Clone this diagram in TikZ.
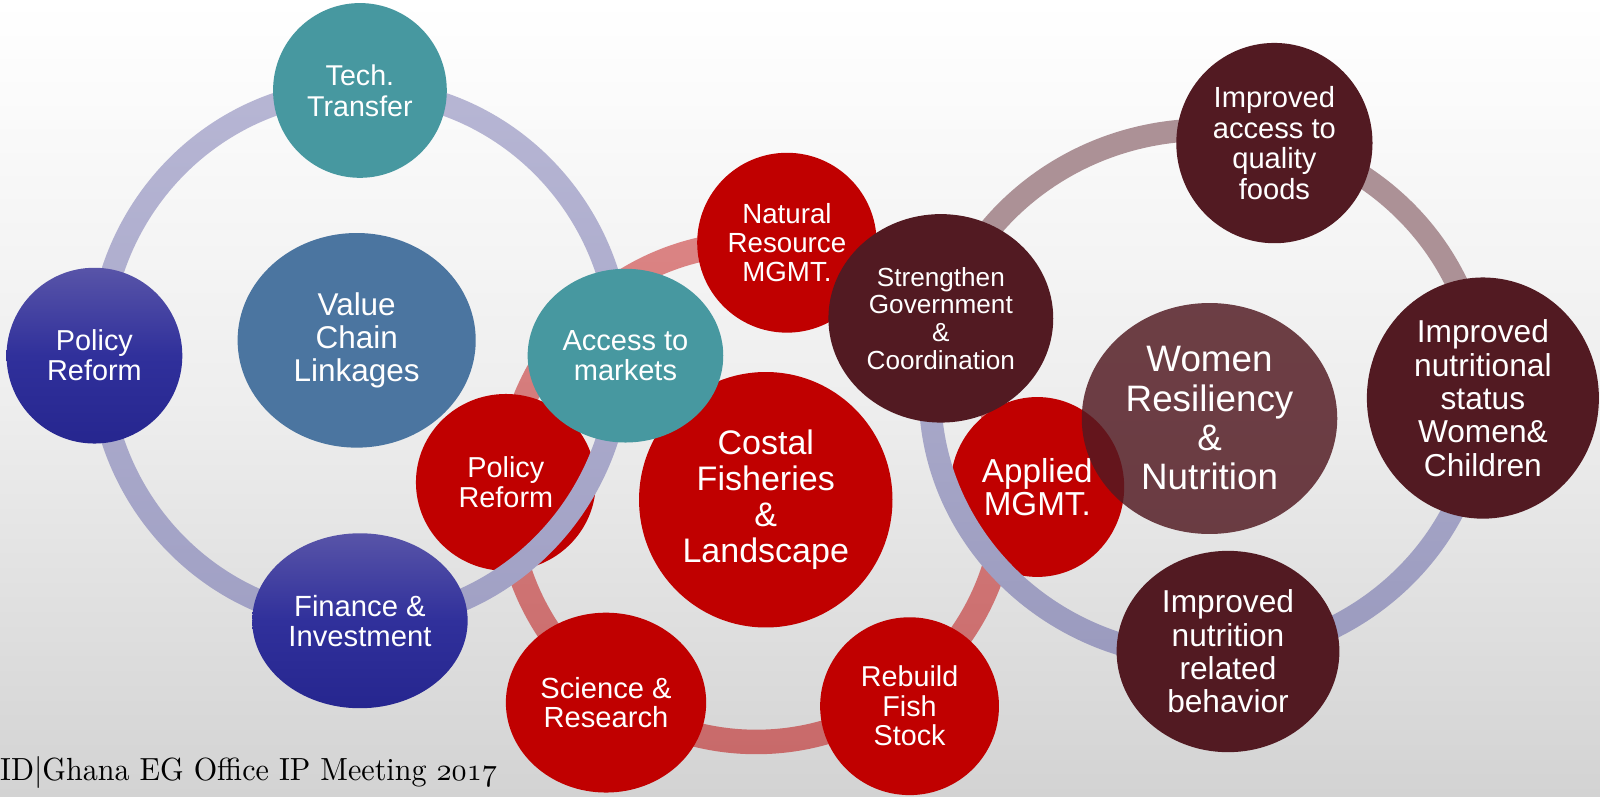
\documentclass[tikz,border=0pt]{standalone}
\usepackage{fontspec}
\usepackage{graphicx}
\newfontfamily\arialf{Liberation Sans}
\usetikzlibrary{shapes.geometric}
\definecolor{tealc}{RGB}{71,152,160}
\definecolor{vclc}{RGB}{75,117,160}
\definecolor{blueT}{RGB}{88,84,168}
\definecolor{blueM}{RGB}{48,48,155}
\definecolor{blueB}{RGB}{38,38,143}
\definecolor{redc}{RGB}{192,0,0}
\definecolor{maroonc}{RGB}{82,26,34}
\definecolor{lavT}{RGB}{183,182,212}
\definecolor{lavB}{RGB}{160,160,196}
\definecolor{salT}{RGB}{219,132,132}
\definecolor{salB}{RGB}{200,106,106}
\definecolor{mauvec}{RGB}{172,145,150}
\definecolor{lavRT}{RGB}{182,182,212}
\definecolor{lavRB}{RGB}{154,154,190}
\definecolor{bgM}{RGB}{238,238,238}
\definecolor{bgB}{RGB}{211,211,211}
\tikzset{
  bub/.style={ellipse, inner sep=0pt, text=white, align=center},
  redbub/.style={bub, fill=redc},
  tealbub/.style={bub, fill=tealc},
  bluebub/.style={bub, top color=blueT, bottom color=blueB, middle color=blueM},
  marbub/.style={bub, fill=maroonc},
}
\newcommand{\fs}[2]{\arialf\fontsize{#1}{#2}\selectfont}
\begin{document}
\begin{tikzpicture}[x=1pt,y=-1pt]
\useasboundingbox (0,0) rectangle (1565.6,778.9);
% background
\shade[top color=white, bottom color=bgB, middle color=bgM] (0,0) rectangle (1565.6,778.9);

% middle ring (salmon)
\shade[top color=salT, bottom color=salB, even odd rule]
  (740,482) ellipse [x radius=256, y radius=256]
  (740,482) ellipse [x radius=232, y radius=232];

% red nodes
\node[redbub, minimum width=175.6pt, minimum height=176pt, font=\fs{27.1}{28.1}] (nr) at (770,237.5) {Natural\\Resource\\MGMT.};
\node[redbub, minimum width=176pt, minimum height=173pt, font=\fs{28.2}{29.4}] (prr) at (495,472) {Policy\\Reform};
\node[redbub, minimum width=248pt, minimum height=250pt, font=\fs{33.3}{35.3}] (cfl) at (749.3,489) {Costal\\Fisheries\\\&\\Landscape};
\node[redbub, minimum width=196pt, minimum height=176pt, font=\fs{28.5}{28.4}] (sr) at (593,687.5) {Science \&\\Research};
\node[redbub, minimum width=175pt, minimum height=174pt, font=\fs{28.1}{28.9}] (rfs) at (890,691) {Rebuild\\Fish\\Stock};
\node[redbub, minimum width=170pt, minimum height=176pt, font=\fs{32.5}{32}] (am) at (1015,476.5) {Applied\\MGMT.};

% left ring (lavender)
\shade[top color=lavT, bottom color=lavB, even odd rule]
  (352,348) ellipse [x radius=266, y radius=271]
  (352,348) ellipse [x radius=244, y radius=249];

% right ring: upper mauve, lower lavender
\begin{scope}
  \clip (800,0) rectangle (1565.6,385);
  \draw[mauvec, line width=22pt] (1180,385) ellipse [x radius=270, y radius=258];
\end{scope}
\begin{scope}
  \clip (800,385) rectangle (1565.6,778.9);
  \shade[top color=lavRT, bottom color=lavRB, even odd rule]
    (1180,385) ellipse [x radius=281, y radius=269]
    (1180,385) ellipse [x radius=259, y radius=247];
\end{scope}

% teal / blue nodes
\node[tealbub, minimum width=170pt, minimum height=171pt, font=\fs{28}{30.3}] (tt) at (352.2,88.5) {Tech.\\Transfer};
\node[bluebub, minimum width=172pt, minimum height=172pt, font=\fs{28.2}{29.4}] (prl) at (92.4,348) {Policy\\Reform};
\node[bub, fill=vclc, minimum width=233pt, minimum height=210pt, font=\fs{30.8}{32.3}] (vcl) at (349,333) {Value\\Chain\\Linkages};
\node[tealbub, minimum width=191.4pt, minimum height=170pt, font=\fs{28.4}{28.4}] (atm) at (612,348) {Access to\\markets};
\node[bluebub, minimum width=210.8pt, minimum height=171.2pt, font=\fs{28.6}{29.4}] (fi) at (352.2,607.4) {Finance \&\\Investment};

% maroon nodes
\node[marbub, minimum width=220pt, minimum height=204pt, font=\fs{25.6}{27}] (sgc) at (920.6,311.5) {Strengthen\\Government\\\&\\Coordination};
\node[marbub, minimum width=192pt, minimum height=196pt, font=\fs{28.5}{30.2}] (iaq) at (1247,140) {Improved\\access to\\quality\\foods};
\node[marbub, minimum width=227pt, minimum height=236pt, font=\fs{31}{32.6}] (ins) at (1451,389.5) {Improved\\nutritional\\status\\Women\&\\Children};
\node[marbub, minimum width=218pt, minimum height=197pt, font=\fs{31}{32.6}] (inb) at (1201.6,637.5) {Improved\\nutrition\\related\\behavior};
\node[bub, fill=maroonc, fill opacity=0.83, text opacity=1, minimum width=250pt, minimum height=226pt, font=\fs{36}{38.5}] (wrn) at (1183.5,409.5) {Women\\Resiliency\\\&\\Nutrition};

% footer
\node[anchor=base west, inner sep=0pt, text=black] (foot) at (0,764)
  {\resizebox{486pt}{23.5pt}{\fontsize{10}{12}\selectfont ID|Ghana EG Office IP Meeting $\mathgroup\symletters 2017$}};
\end{tikzpicture}
\end{document}
